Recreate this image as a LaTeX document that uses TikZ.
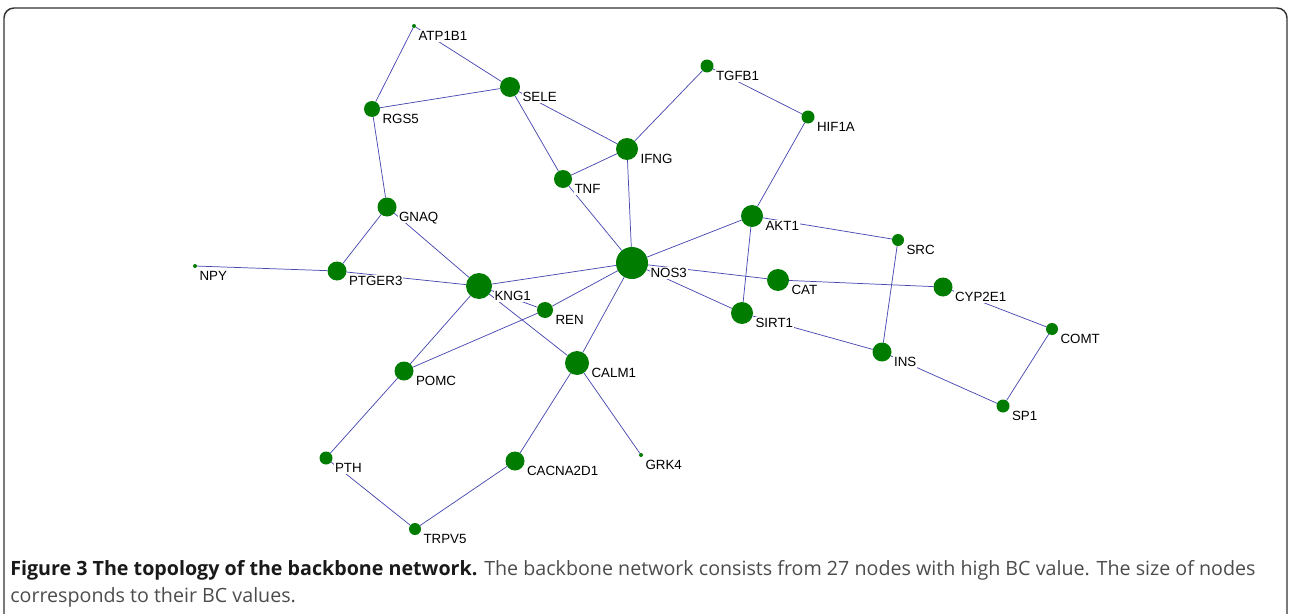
\documentclass[tikz,border=0pt]{standalone}
\usepackage{fontspec}
\setmainfont{Liberation Sans}
\newfontfamily\capfont{Open Sans}
\definecolor{genegreen}{RGB}{0,125,0}
\definecolor{linkblue}{RGB}{72,72,176}
\definecolor{boxgray}{RGB}{51,51,51}
% genes: name/x/y/radius (pixels)
\def\genes{ATP1B1/414/26/2, SELE/510/87/10, RGS5/372/109/8, TGFB1/707/66/6.5,
 HIF1A/808/117/6.5, IFNG/627/149/11, TNF/563/179/9, GNAQ/387/207/9.5,
 AKT1/752/216/11, SRC/898/240/6, NPY/195/266/2, PTGER3/337/271/9.5,
 NOS3/632/263/16, KNG1/479/286/13, CAT/778/280/11, CYP2E1/943/287/9.5,
 REN/545/310/8, SIRT1/742/313/11, COMT/1052/329/6, INS/882/352/9.5,
 CALM1/577/363/12, POMC/404/371/9.5, SP1/1003/406/6.5, PTH/326/458/6.5,
 CACNA2D1/515/461/9.5, GRK4/641/455/2, TRPV5/415/529/6}
\begin{document}
\begin{tikzpicture}[x=0.75pt, y=-0.75pt, line join=round, line cap=round,
  gene/.style={circle, fill=genegreen, inner sep=0pt, minimum size=1.5pt*#1},
  tag/.style={anchor=west, fill=white, inner sep=0.6pt, text height=7.2pt, text depth=0pt, font=\fontsize{10}{12}\selectfont},
  link/.style={draw=linkblue, line width=0.55pt}]
  \useasboundingbox (0,0) rectangle (1290,614);
  \draw[boxgray, line width=1.1pt, rounded corners=7.5pt] (4,640) -- (4,8) -- (1287,8) -- (1287,640);
  \foreach \gn/\gx/\gy/\gr in \genes
    \node[gene=\gr] (\gn) at (\gx,\gy) {};
  % interactions
  \foreach \a/\b in {ATP1B1/RGS5, ATP1B1/SELE, RGS5/SELE, RGS5/GNAQ, SELE/TNF, SELE/IFNG,
    TNF/IFNG, TNF/NOS3, IFNG/NOS3, IFNG/TGFB1, TGFB1/HIF1A, HIF1A/AKT1, GNAQ/PTGER3,
    GNAQ/KNG1, NPY/PTGER3, PTGER3/KNG1, KNG1/NOS3, KNG1/REN, KNG1/POMC, KNG1/CALM1,
    POMC/REN, REN/NOS3, NOS3/CALM1, CALM1/CACNA2D1, CALM1/GRK4, CACNA2D1/TRPV5,
    PTH/TRPV5, POMC/PTH, NOS3/AKT1, NOS3/CAT, NOS3/SIRT1, AKT1/SIRT1, AKT1/SRC,
    SRC/INS, CAT/CYP2E1, CYP2E1/COMT, COMT/SP1, SIRT1/INS, INS/SP1}
    \draw[link] (\a) -- (\b);
  \foreach \gn/\gx/\gy/\gr in \genes
    \node[tag] (\gn-tag) at (\gx+\gr+1.5,\gy+10) {\gn};
  \node[anchor=north west, align=left, inner sep=0pt, text=black!70,
    font=\capfont\fontsize{14.75}{20.3}\selectfont] (caption) at (10,560)
    {\textcolor{black!90}{\textbf{Figure 3 The topology of the backbone network.}} The backbone network consists from 27 nodes with high BC value. The size of nodes\\
     corresponds to their BC values.};
\end{tikzpicture}
\end{document}
